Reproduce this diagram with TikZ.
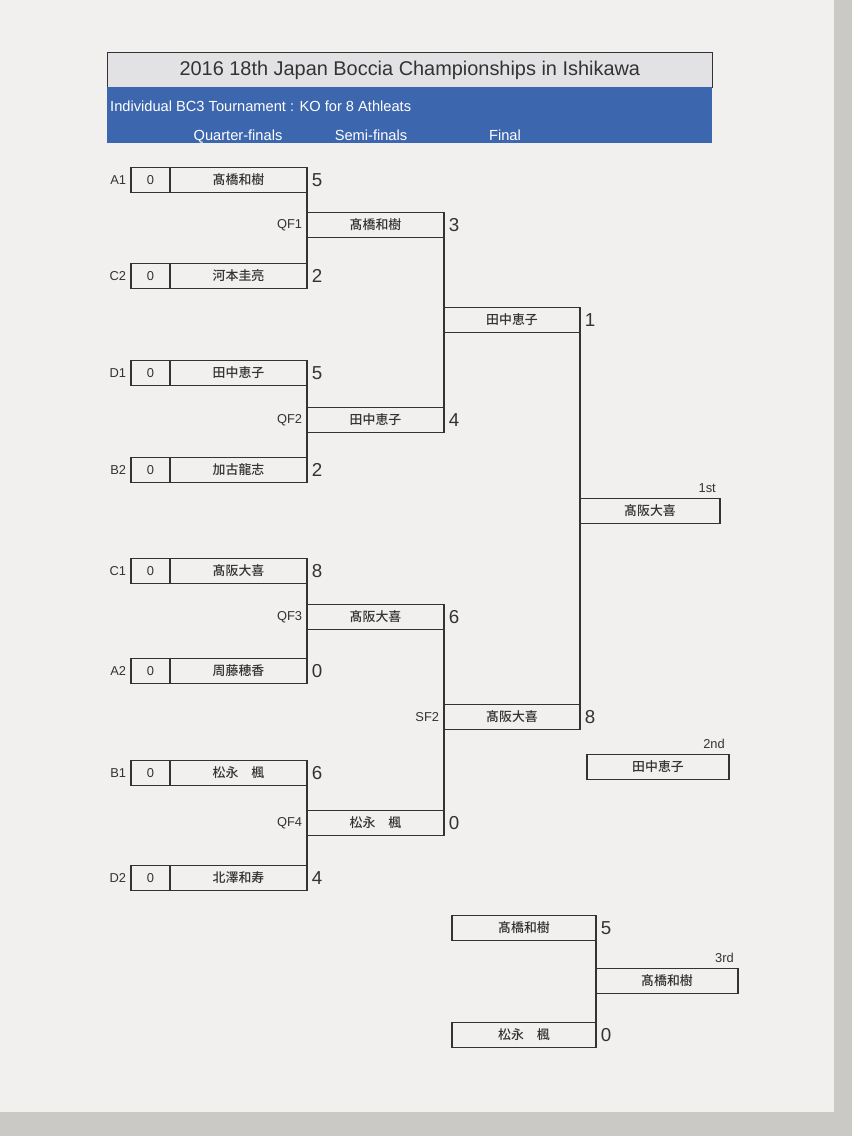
\documentclass[tikz,border=0pt]{standalone}
\usepackage{fontspec}
\setmainfont{Liberation Sans}
\newfontfamily\jp{Noto Sans CJK JP}[UprightFont={* Medium}]
\usetikzlibrary{positioning}
\definecolor{paper}{HTML}{F1F0EE}
\definecolor{desk}{HTML}{CBC9C6}
\definecolor{ink}{HTML}{333333}
\definecolor{band}{HTML}{3C66AE}
\definecolor{ttl}{HTML}{E2E2E4}
\tikzset{
  seed/.style={draw=ink, line width=0.9pt, outer sep=0pt, minimum width=11.7mm, minimum height=7.5mm, inner sep=0pt, text=ink, font=\fontsize{11}{12}\selectfont},
  ply/.style={draw=ink, line width=0.9pt, outer sep=0pt, minimum height=7.5mm, inner sep=0pt, text=ink, font=\jp\fontsize{11}{12}\selectfont},
  pts/.style={text=ink, inner sep=0pt, font=\fontsize{16}{18}\selectfont},
  tag/.style={text=ink, inner sep=0pt, font=\fontsize{11}{12}\selectfont},
  hd/.style={text=white, inner sep=0pt, anchor=base, font=\fontsize{12.5}{14}\selectfont},
  lnk/.style={draw=ink, line width=0.9pt, line cap=rect}}

\begin{document}
\begin{tikzpicture}[x=0.3mm, y=-0.3mm, node distance=0pt]
\fill[desk] (0,0) rectangle (852,1136);
\fill[paper] (0,0) rectangle (834,1112);
\useasboundingbox (0,0) rectangle (852,1136);
% heading
\node[draw=ink, fill=ttl, line width=0.6pt, minimum width=181.5mm, minimum height=10.5mm, anchor=north west, font=\fontsize{17}{19}\selectfont, text=ink] (title) at (107,52) {2016 18th Japan Boccia Championships in Ishikawa};
\node[fill=band, minimum width=181.5mm, minimum height=16.8mm, inner sep=0pt, anchor=north west] (band) at (107,87) {};
\node[hd, anchor=base west] (sub) at (110,111) {Individual BC3 Tournament : KO for 8 Athleats};
\node[hd] (rqf) at (238,140) {Quarter-finals};
\node[hd] (rsf) at (371,140) {Semi-finals};
\node[hd] (rfn) at (505,140) {Final};
% first round
\node[seed, anchor=west] (a1s) at (131,180) {0};
\node[ply, minimum width=41.1mm, right=of a1s] (a1) {髙橋和樹};
\node[tag, left=4pt of a1s] (a1l) {A1};
\node[pts, right=4pt of a1] (a1p) {5};
\node[seed, anchor=west] (c2s) at (131,276) {0};
\node[ply, minimum width=41.1mm, right=of c2s] (c2) {河本圭亮};
\node[tag, left=4pt of c2s] (c2l) {C2};
\node[pts, right=4pt of c2] (c2p) {2};
\node[seed, anchor=west] (d1s) at (131,373) {0};
\node[ply, minimum width=41.1mm, right=of d1s] (d1) {田中恵子};
\node[tag, left=4pt of d1s] (d1l) {D1};
\node[pts, right=4pt of d1] (d1p) {5};
\node[seed, anchor=west] (b2s) at (131,470) {0};
\node[ply, minimum width=41.1mm, right=of b2s] (b2) {加古龍志};
\node[tag, left=4pt of b2s] (b2l) {B2};
\node[pts, right=4pt of b2] (b2p) {2};
\node[seed, anchor=west] (c1s) at (131,571) {0};
\node[ply, minimum width=41.1mm, right=of c1s] (c1) {髙阪大喜};
\node[tag, left=4pt of c1s] (c1l) {C1};
\node[pts, right=4pt of c1] (c1p) {8};
\node[seed, anchor=west] (a2s) at (131,671) {0};
\node[ply, minimum width=41.1mm, right=of a2s] (a2) {周藤穂香};
\node[tag, left=4pt of a2s] (a2l) {A2};
\node[pts, right=4pt of a2] (a2p) {0};
\node[seed, anchor=west] (b1s) at (131,773) {0};
\node[ply, minimum width=41.1mm, right=of b1s] (b1) {松永　楓};
\node[tag, left=4pt of b1s] (b1l) {B1};
\node[pts, right=4pt of b1] (b1p) {6};
\node[seed, anchor=west] (d2s) at (131,878) {0};
\node[ply, minimum width=41.1mm, right=of d2s] (d2) {北澤和寿};
\node[tag, left=4pt of d2s] (d2l) {D2};
\node[pts, right=4pt of d2] (d2p) {4};
% quarter-finals
\node[ply, minimum width=41.1mm, anchor=west] (qf1) at (307,225) {髙橋和樹};
\node[tag, left=4pt of qf1] (qf1l) {QF1};
\node[pts, right=4pt of qf1] (qf1p) {3};
\node[ply, minimum width=41.1mm, anchor=west] (qf2) at (307,420) {田中恵子};
\node[tag, left=4pt of qf2] (qf2l) {QF2};
\node[pts, right=4pt of qf2] (qf2p) {4};
\node[ply, minimum width=41.1mm, anchor=west] (qf3) at (307,617) {髙阪大喜};
\node[tag, left=4pt of qf3] (qf3l) {QF3};
\node[pts, right=4pt of qf3] (qf3p) {6};
\node[ply, minimum width=41.1mm, anchor=west] (qf4) at (307,823) {松永　楓};
\node[tag, left=4pt of qf4] (qf4l) {QF4};
\node[pts, right=4pt of qf4] (qf4p) {0};
\draw[lnk] (a1.south east) -- (c2.north east);
\draw[lnk] (d1.south east) -- (b2.north east);
\draw[lnk] (c1.south east) -- (a2.north east);
\draw[lnk] (b1.south east) -- (d2.north east);
% semi-finals and final
\node[ply, minimum width=40.8mm, anchor=west] (sf1) at (444,320) {田中恵子};
\node[pts, right=4pt of sf1] (sf1p) {1};
\node[ply, minimum width=40.8mm, anchor=west] (sf2) at (444,717) {髙阪大喜};
\node[tag, left=4pt of sf2] (sf2l) {SF2};
\node[pts, right=4pt of sf2] (sf2p) {8};
\draw[lnk] (qf1.south east) -- (qf2.north east);
\draw[lnk] (qf3.south east) -- (qf4.north east);
\node[ply, minimum width=42mm, anchor=west] (fin) at (580,511) {髙阪大喜};
\node[tag, anchor=south east] (finl) at ([xshift=-1.2mm, yshift=1.6mm]fin.north east) {1st};
\draw[lnk] (sf1.south east) -- (sf2.north east);
\node[ply, minimum width=42.6mm, anchor=west] (snd) at (587,767) {田中恵子};
\node[tag, anchor=south east] (sndl) at ([xshift=-1.2mm, yshift=1.6mm]snd.north east) {2nd};
% third place
\node[ply, minimum width=43.2mm, anchor=west] (tpa) at (452,928) {髙橋和樹};
\node[pts, right=4pt of tpa] (tpap) {5};
\node[ply, minimum width=43.2mm, anchor=west] (tpb) at (452,1035) {松永　楓};
\node[pts, right=4pt of tpb] (tpbp) {0};
\draw[lnk] (tpa.south east) -- (tpb.north east);
\node[ply, minimum width=42.6mm, anchor=west] (thd) at (596,981) {髙橋和樹};
\node[tag, anchor=south east] (thdl) at ([xshift=-1.2mm, yshift=1.6mm]thd.north east) {3rd};
\end{tikzpicture}
\end{document}
